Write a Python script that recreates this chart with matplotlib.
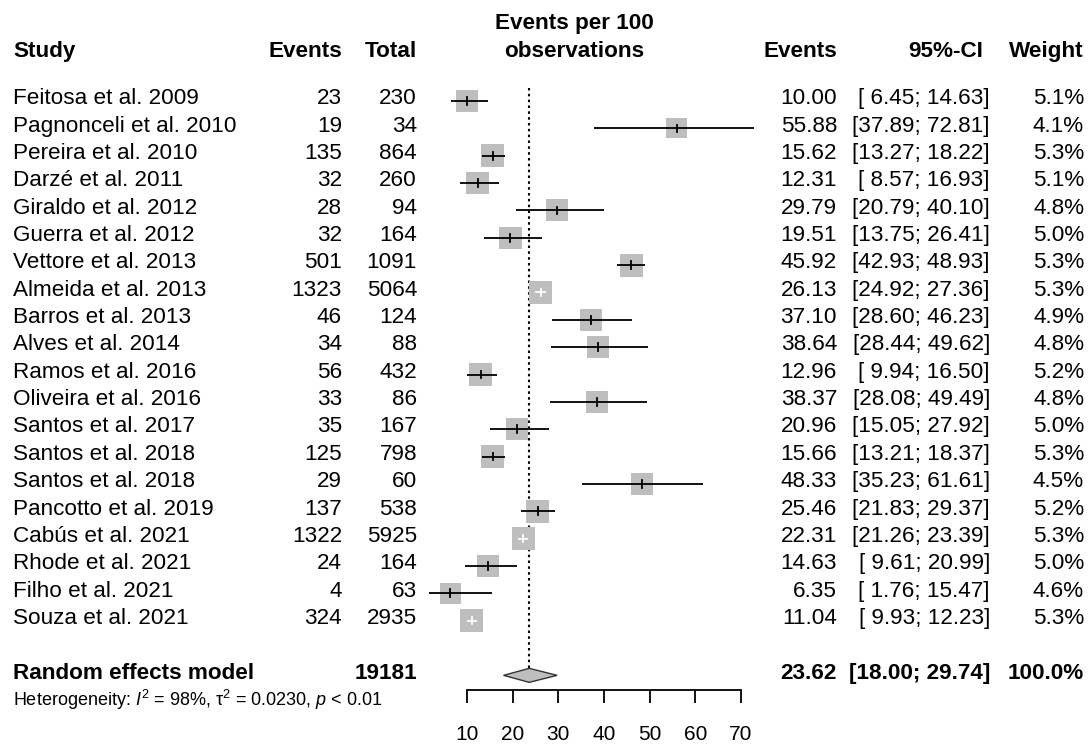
import numpy as np
import matplotlib
matplotlib.use('Agg')
import matplotlib.pyplot as plt
from matplotlib.patches import Rectangle, Polygon

plt.rcParams['font.family'] = ['Liberation Sans', 'DejaVu Sans']
plt.rcParams['mathtext.fontset'] = 'custom'
plt.rcParams['mathtext.rm'] = 'Liberation Sans'
plt.rcParams['mathtext.it'] = 'Liberation Sans:italic'

# study level data
studies = ["Feitosa et al. 2009", "Pagnonceli et al. 2010", "Pereira et al. 2010", "Darzé et al. 2011",
           "Giraldo et al. 2012", "Guerra et al. 2012", "Vettore et al. 2013", "Almeida et al. 2013",
           "Barros et al. 2013", "Alves et al. 2014", "Ramos et al. 2016", "Oliveira et al. 2016",
           "Santos et al. 2017", "Santos et al. 2018", "Santos et al. 2018", "Pancotto et al. 2019",
           "Cabús et al. 2021", "Rhode et al. 2021", "Filho et al. 2021", "Souza et al. 2021"]
events = [23, 19, 135, 32, 28, 32, 501, 1323, 46, 34, 56, 33, 35, 125, 29, 137, 1322, 24, 4, 324]
totals = [230, 34, 864, 260, 94, 164, 1091, 5064, 124, 88, 432, 86, 167, 798, 60, 538, 5925, 164, 63, 2935]
rate = [10.00, 55.88, 15.62, 12.31, 29.79, 19.51, 45.92, 26.13, 37.10, 38.64,
        12.96, 38.37, 20.96, 15.66, 48.33, 25.46, 22.31, 14.63, 6.35, 11.04]
lower = [6.45, 37.89, 13.27, 8.57, 20.79, 13.75, 42.93, 24.92, 28.60, 28.44,
         9.94, 28.08, 15.05, 13.21, 35.23, 21.83, 21.26, 9.61, 1.76, 9.93]
upper = [14.63, 72.81, 18.22, 16.93, 40.10, 26.41, 48.93, 27.36, 46.23, 49.62,
         16.50, 49.49, 27.92, 18.37, 61.61, 29.37, 23.39, 20.99, 15.47, 12.23]
weight = [5.1, 4.1, 5.3, 5.1, 4.8, 5.0, 5.3, 5.3, 4.9, 4.8, 5.2, 4.8, 5.0, 5.3, 4.5, 5.2, 5.3, 5.0, 4.6, 5.3]

# random effects summary
re_est, re_lo, re_hi = 23.62, 18.00, 29.74
total_n = 19181
het_text = r"Heterogeneity: $\mathit{I}^2$ = 98%, τ$^2$ = 0.0230, $\mathit{p}$ < 0.01"
xticks = [10, 20, 30, 40, 50, 60, 70]

# layout (pixels)
W, H = 1091, 745
X10, PPU = 467.0, 4.5667      # pixel of x=10, pixels per unit
ROW1, ROWH = 101.0, 27.35     # pixel of first row, row height


def px_x(px):
    return 10 + (px - X10) / PPU


def px_row(py):
    return 1 + (py - ROW1) / ROWH


FS = 16.2
GREY = '#bebebe'

fig = plt.figure(figsize=(W / 100, H / 100), dpi=100)
ax = fig.add_axes([0, 0, 1, 1])
ax.set_xlim(px_x(0), px_x(W))
ax.set_ylim(px_row(H), px_row(0))
ax.patch.set_visible(False)
for s in ['top', 'left', 'right']:
    ax.spines[s].set_visible(False)
ax.set_yticks([])

n = len(studies)
base = 0.12  # baseline offset of text below row centre


def txt(px, row, s, ha='left', bold=False, size=FS):
    ax.text(px_x(px), row + base, s, ha=ha, va='baseline', fontsize=size,
            fontweight='bold' if bold else 'normal', color='black')


# header, two lines above the first study
h2 = px_row(57) - base
h1 = px_row(29) - base
txt(13, h2, "Study", bold=True)
txt(342, h2, "Events", ha='right', bold=True)
txt(417, h2, "Total", ha='right', bold=True)
txt(574, h1, "Events per 100", ha='center', bold=True)
txt(574, h2, "observations", ha='center', bold=True)
txt(837, h2, "Events", ha='right', bold=True)
txt(983, h2, "95%-CI", ha='right', bold=True)
txt(1084, h2, "Weight", ha='right', bold=True)

for i in range(n):
    row = i + 1
    side = 10 * np.sqrt(weight[i])
    hw, hh = side / 2 / PPU, side / 2 / ROWH
    ax.add_patch(Rectangle((rate[i] - hw, row - hh), 2 * hw, 2 * hh, fc=GREY, ec='none', zorder=2))
    # CI drawn white when it fits inside the square
    inside = lower[i] >= rate[i] - hw and upper[i] <= rate[i] + hw
    c = 'white' if inside else 'black'
    ax.plot([lower[i], upper[i]], [row, row], color=c, lw=1.3, zorder=3, solid_capstyle='butt')
    ax.plot([rate[i], rate[i]], [row - 0.14, row + 0.14], color=c, lw=1.3, zorder=3)

    txt(13, row, studies[i])
    txt(342, row, str(events[i]), ha='right')
    txt(417, row, str(totals[i]), ha='right')
    txt(837, row, "%.2f" % rate[i], ha='right')
    lo = "%.2f" % lower[i]
    if lower[i] < 10:
        lo = " " + lo
    txt(990, row, "[%s; %.2f]" % (lo, upper[i]), ha='right')
    txt(1084, row, "%.1f%%" % weight[i], ha='right')

# summary row
srow = n + 2
dh = 7 / ROWH
ax.add_patch(Polygon([(re_lo, srow), (re_est, srow - dh), (re_hi, srow), (re_est, srow + dh)],
                     closed=True, fc=GREY, ec='#333333', lw=1.0, zorder=3))
ax.plot([re_est, re_est], [px_row(88), srow - dh], color='black', ls=(0, (1.2, 1.6)), lw=1.5, zorder=1)
txt(13, srow, "Random effects model", bold=True)
txt(417, srow, str(total_n), ha='right', bold=True)
txt(837, srow, "%.2f" % re_est, ha='right', bold=True)
txt(990, srow, "[%.2f; %.2f]" % (re_lo, re_hi), ha='right', bold=True)
txt(1084, srow, "100.0%", ha='right', bold=True)
txt(13, srow + 1, het_text, size=13)

# x axis
ax.spines['bottom'].set_position(('data', px_row(690)))
ax.spines['bottom'].set_bounds(10, 70)
ax.spines['bottom'].set_linewidth(1.3)
ax.set_xticks(xticks)
ax.set_xticklabels([str(t) for t in xticks])
ax.tick_params(axis='x', direction='out', length=9.5, width=1.3, pad=16, labelsize=15)

fig.savefig('out.png', dpi=100)
